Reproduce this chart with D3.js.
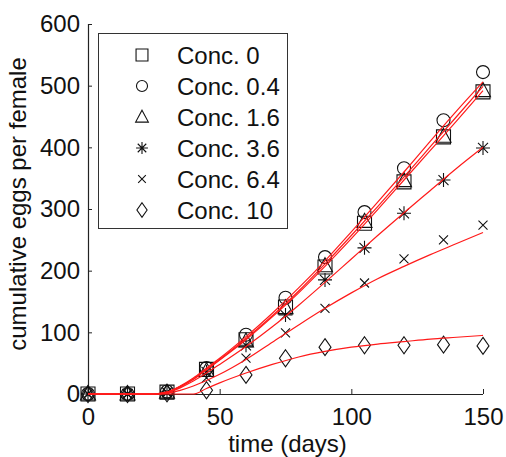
<!DOCTYPE html>
<html><head><meta charset="utf-8">
<script src="https://cdn.jsdelivr.net/npm/d3@7"></script>
<style>
html,body{margin:0;padding:0;background:#fff;}
svg text{font-family:"Liberation Sans",Arial,sans-serif;fill:#111;}
</style></head>
<body><svg id="chart" width="506" height="457"></svg>
<script>
// ---- data ----
const days = [0, 15, 30, 45, 60, 75, 90, 105, 120, 135, 150];
const seriesNames = ["Conc. 0", "Conc. 0.4", "Conc. 1.6", "Conc. 3.6", "Conc. 6.4", "Conc. 10"];
const markerTypes = ["square", "circle", "triangle", "star", "cross", "diamond"];
const obsConc0  = [0, 0, 3, 40, 88, 141, 206, 277, 344, 417, 490];
const obsConc04 = [0, 0, 4, 42, 96, 156, 222, 295, 366, 444, 522];
const obsConc16 = [0, 0, 3, 38, 86, 140, 208, 280, 346, 418, 492];
const obsConc36 = [0, 0, 3, 36, 79, 128, 185, 237, 293, 347, 399];
const obsConc64 = [0, 0, 2, 26, 58, 99, 139, 180, 219, 250, 274];
const obsConc10 = [0, 0, 1, 6, 31, 58, 76, 79, 79, 80, 78];

const fitDays   = [0, 25, 30, 35, 40, 45, 50, 60, 70, 80, 90, 100, 110, 120, 130, 140, 150];
const fitConc0  = [0, 0, 3, 12, 24, 40, 56, 90, 127, 167, 211, 257, 304, 352, 401, 450, 499];
const fitConc04 = [0, 0, 3, 13, 26, 42, 58, 93, 131, 172, 216, 263, 311, 360, 410, 459, 506];
const fitConc16 = [0, 0, 3, 12, 24, 39, 55, 88, 125, 164, 207, 252, 299, 347, 395, 443, 492];
const fitConc36 = [0, 0, 2, 10, 21, 34, 48, 77, 109, 144, 181, 219, 257, 294, 330, 366, 400];
const fitConc64 = [0, 0, 1, 6, 13, 22, 32, 56, 84, 112, 139, 164, 187, 207, 226, 244, 262];
const fitConc10 = [0, 0, 0, 0, 0, 9, 18, 34, 48, 60, 69, 76, 81, 85, 89, 92, 95];

const xTicks = [0, 50, 100, 150];
const yTicks = [0, 100, 200, 300, 400, 500, 600];
const xLabel = "time (days)";
const yLabel = "cumulative eggs per female";

const obs = [obsConc0, obsConc04, obsConc16, obsConc36, obsConc64, obsConc10];
const fits = [fitConc0, fitConc04, fitConc16, fitConc36, fitConc64, fitConc10];

// ---- layout ----
const svg = d3.select("#chart");
const x = d3.scaleLinear().domain([0, 150]).range([88, 483]);
const y = d3.scaleLinear().domain([0, 600]).range([394, 24]);
const FS = 24;

// axes
const xAxis = d3.axisBottom(x).tickValues(xTicks).tickSize(-5).tickPadding(14).tickFormat(d3.format("d"));
const yAxis = d3.axisLeft(y).tickValues(yTicks).tickSize(-4).tickPadding(8).tickFormat(d3.format("d"));
const gx = svg.append("g").attr("transform", `translate(0,${y(0)})`).call(xAxis);
const gy = svg.append("g").attr("transform", `translate(${x(0)},0)`).call(yAxis);
[gx, gy].forEach(g => {
  g.select(".domain").attr("stroke", "#222").attr("stroke-width", 1.2);
  g.selectAll(".tick line").attr("stroke", "#222");
  g.selectAll(".tick text").attr("font-size", FS).attr("font-family", '"Liberation Sans",Arial,sans-serif').attr("fill", "#111");
});
gx.select(".domain").attr("d", `M${x(0)},0.5H${x(150)}`);
gy.select(".domain").attr("d", `M0.5,${y(0)}V${y(600)}`);

svg.append("text").attr("x", (x(0) + x(150)) / 2 + 2).attr("y", 452)
  .attr("text-anchor", "middle").attr("font-size", FS).text(xLabel);
svg.append("text").attr("transform", `translate(26,204) rotate(-90)`)
  .attr("text-anchor", "middle").attr("font-size", FS).text(yLabel);

// marker shapes
function markerPath(type, s) {
  s = s || 1;
  switch (type) {
    case "square": return `M${-7*s},${-7*s}H${7*s}V${7*s}H${-7*s}Z`;
    case "circle": return d3.symbol(d3.symbolCircle, Math.PI * 6.5 * 6.5 * s * s)();
    case "triangle": return `M0,${-8*s}L${7.5*s},${6*s}H${-7.5*s}Z`;
    case "star": return `M${-7*s},0H${7*s}M0,${-7*s}V${7*s}M${-5*s},${-5*s}L${5*s},${5*s}M${-5*s},${5*s}L${5*s},${-5*s}`;
    case "cross": return `M${-4.5*s},${-4.5*s}L${4.5*s},${4.5*s}M${-4.5*s},${4.5*s}L${4.5*s},${-4.5*s}`;
    case "diamond": return `M0,${-8.5*s}L${6*s},0L0,${8.5*s}L${-6*s},0Z`;
  }
}

// markers
obs.forEach((vals, i) => {
  svg.append("g").selectAll("path").data(vals).join("path")
    .attr("transform", (d, j) => `translate(${x(days[j])},${y(d)})`)
    .attr("d", markerPath(markerTypes[i]))
    .attr("fill", "none").attr("stroke", "#111").attr("stroke-width", 1.1);
});

// fitted lines
const line = d3.line().x((d, j) => x(fitDays[j])).y(d => y(d)).curve(d3.curveMonotoneX);
fits.forEach(vals => {
  svg.append("path").datum(vals).attr("d", line)
    .attr("fill", "none").attr("stroke", "#ff1a1a").attr("stroke-width", 1.2);
});

// legend
const lg = svg.append("g");
lg.append("rect").attr("x", 98.5).attr("y", 33.5).attr("width", 189).attr("height", 195)
  .attr("fill", "#fff").attr("stroke", "#333").attr("stroke-width", 1);
const rowY = d3.scaleLinear().domain([0, 5]).range([55, 210]);
seriesNames.forEach((name, i) => {
  lg.append("path").attr("transform", `translate(142,${rowY(i)})`).attr("d", markerPath(markerTypes[i], 0.85))
    .attr("fill", "none").attr("stroke", "#111").attr("stroke-width", 1.1);
  lg.append("text").attr("x", 177).attr("y", rowY(i) + 8.5).attr("font-size", FS).text(name);
});
</script></body></html>
